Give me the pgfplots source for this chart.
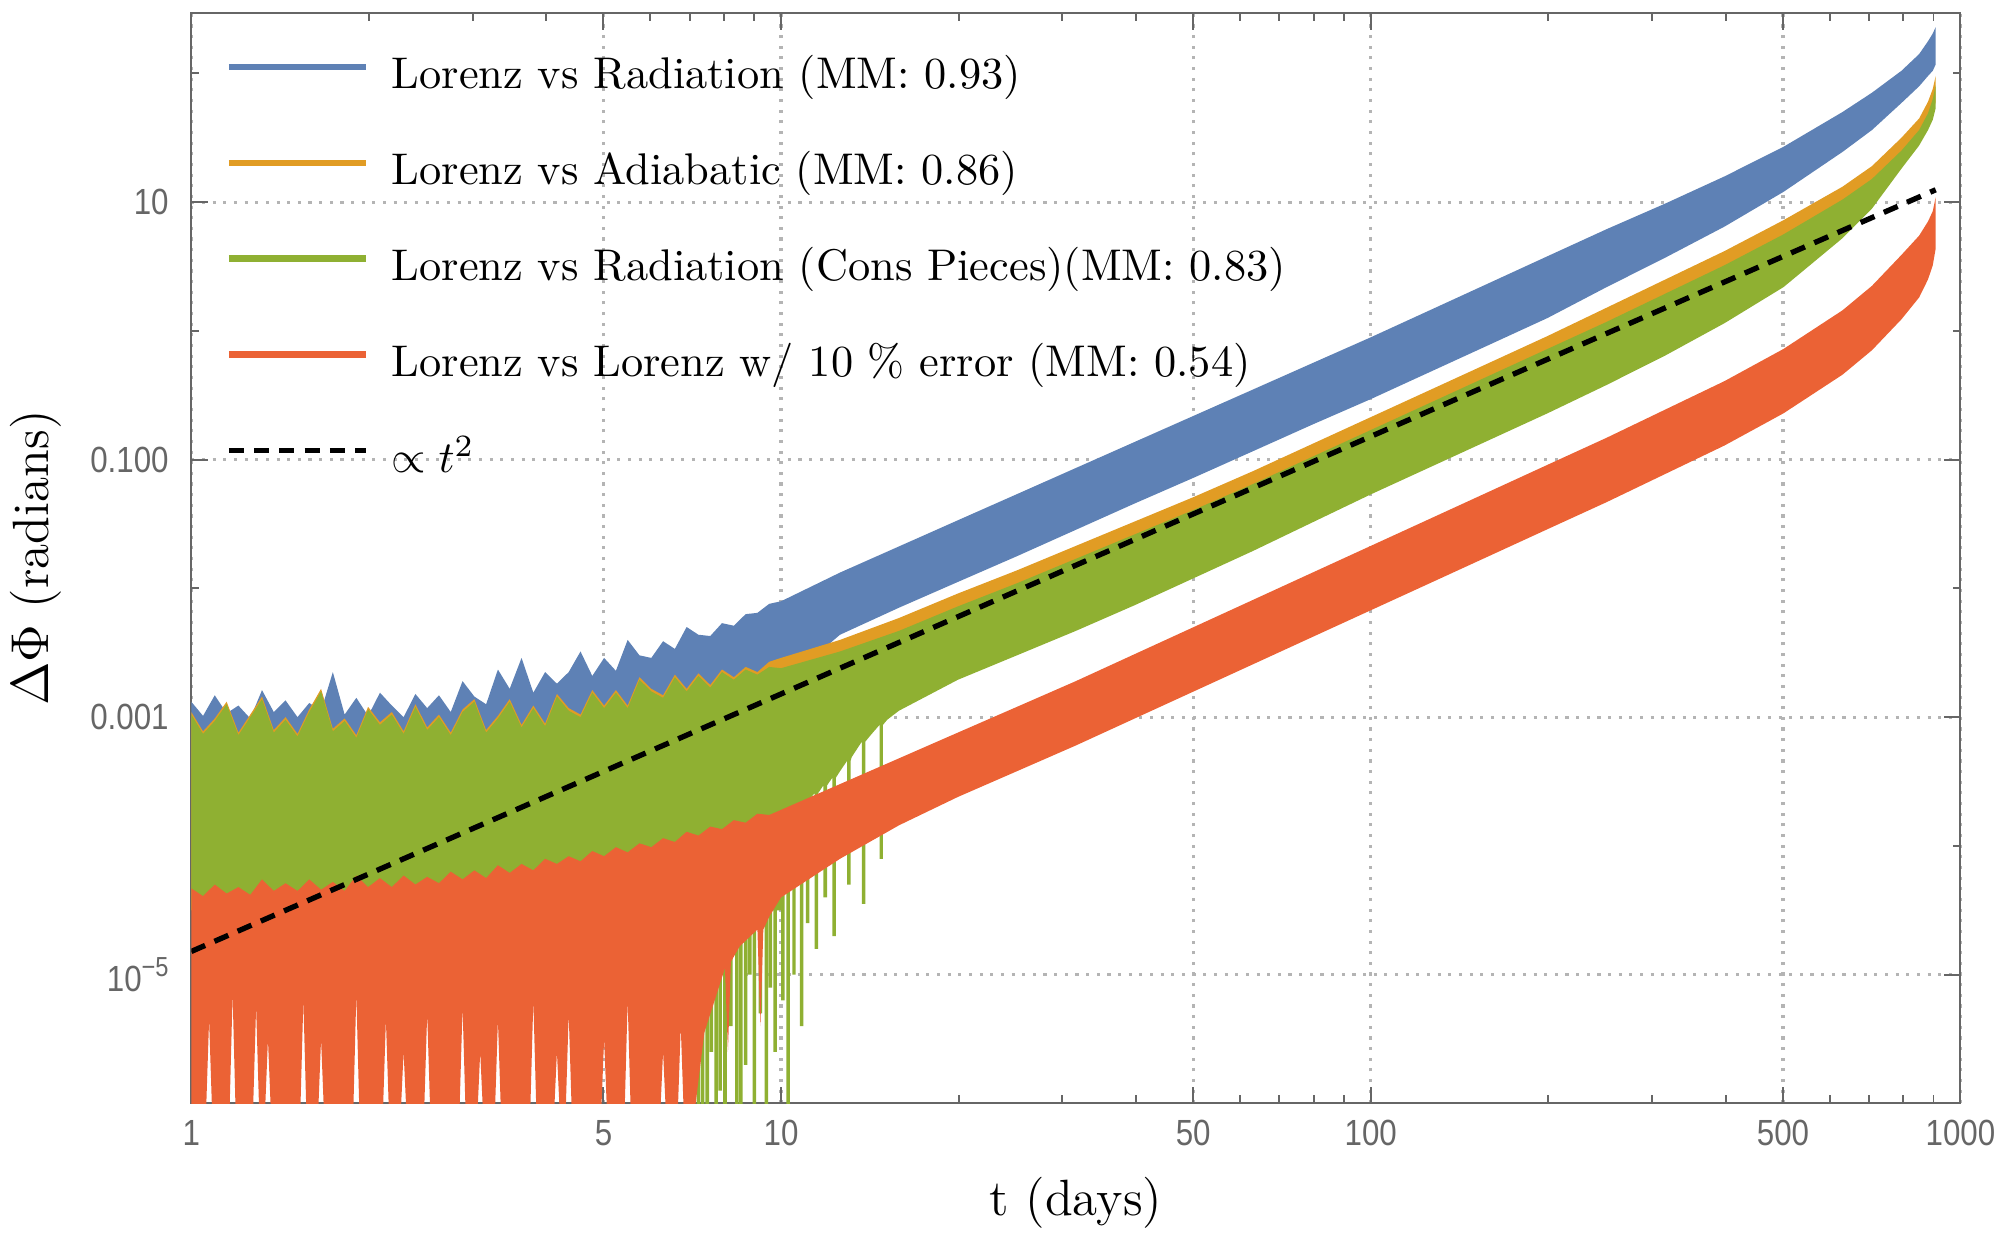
\documentclass[border=0pt]{standalone}
\usepackage{fontspec}
\usepackage{pgfplots}
\pgfplotsset{compat=1.18}
\newfontfamily\tickfont[FakeStretch=0.86]{Liberation Sans}
\definecolor{cBlue}{HTML}{5E81B5}
\definecolor{cOrange}{HTML}{E19C24}
\definecolor{cGreen}{HTML}{8FB032}
\definecolor{cRed}{HTML}{EB6235}
\definecolor{framegray}{HTML}{666666}
\definecolor{gridgray}{HTML}{B4B4B4}
\begin{document}
\begin{tikzpicture}
\begin{axis}[
  xmode=log, ymode=log,
  scale only axis, width=398.6pt, height=245.7pt,
  xmin=1, xmax=1000, ymin=1e-6, ymax=295,
  xtick={1,5,10,50,100,500,1000},
  xticklabels={1,5,10,50,100,500,1000},
  minor xtick={2,3,4,6,7,8,9,20,30,40,60,70,80,90,200,300,400,600,700,800,900},
  ytick={1e-5,1e-3,0.1,10},
  yticklabels={10\raisebox{0.42em}{\fontsize{6.2}{6.2}\selectfont −5},0.001,0.100,10},
  minor ytick={1e-6,1e-4,1e-2,1,100},
  tick align=inside, tick pos=both,
  major tick length=3.75pt, minor tick length=1.8pt,
  every tick/.style={draw=framegray, line width=0.45pt},
  axis line style={draw=framegray, line width=0.45pt},
  grid=major,
  major grid style={draw=gridgray, line width=0.7pt, dash pattern=on 0.7pt off 1.7pt},
  xticklabel style={font=\tickfont\fontsize{8.2}{9}\selectfont, text=framegray, anchor=north, inner sep=0pt, yshift=-3.6pt},
  yticklabel style={font=\tickfont\fontsize{8.2}{9}\selectfont, text=framegray, anchor=east, inner sep=0pt, xshift=-4.9pt},
  xlabel={t (days)}, ylabel={$\Delta\Phi$ (radians)},
  label style={font=\fontsize{11.5}{13}\selectfont},
  xlabel style={at={(axis description cs:0.5,0)}, anchor=center, yshift=-22.4pt},
  ylabel style={at={(axis description cs:0,0.5)}, anchor=center, yshift=35pt},
  no markers,
  legend style={at={(0,1)}, anchor=north west, xshift=7.75pt, yshift=-9.65pt,
    draw=none, fill=none, inner sep=0pt, outer sep=0pt, row sep=11.6pt,
    nodes={inner sep=0pt, text height=7.5pt, text depth=2.5pt},
    /tikz/every odd column/.append style={column sep=5.0pt}},
  legend cell align=left,
  legend image code/.code={\draw[#1] (0pt,2.5pt) -- (31pt,2.5pt);},
]
% Lorenz vs Radiation (blue band: upper envelope, then lower envelope backwards)
\addplot[forget plot, fill=cBlue, draw=none] coordinates {
(1,1.318e-3) (1.047,1.023e-3) (1.096,1.479e-3) (1.148,1.072e-3) (1.202,1.230e-3) (1.259,9.772e-4) (1.318,1.622e-3) (1.380,1.096e-3) (1.445,1.349e-3) (1.514,1.000e-3) (1.585,1.288e-3) (1.660,1.122e-3) (1.738,2.239e-3) (1.820,1.047e-3) (1.905,1.413e-3) (1.995,1.023e-3) (2.089,1.549e-3) (2.188,1.230e-3) (2.291,1.000e-3) (2.399,1.514e-3) (2.512,1.175e-3) (2.630,1.479e-3) (2.754,1.096e-3) (2.884,1.905e-3) (3.020,1.445e-3) (3.162,1.259e-3) (3.311,2.344e-3) (3.467,1.660e-3) (3.631,2.884e-3) (3.802,1.549e-3) (3.981,2.239e-3) (4.169,1.820e-3) (4.365,2.239e-3) (4.571,3.236e-3) (4.786,2.089e-3) (5.012,2.884e-3) (5.248,2.291e-3) (5.495,3.981e-3) (5.754,3.020e-3) (6.026,2.884e-3) (6.310,3.890e-3) (6.607,3.388e-3) (6.918,5.012e-3) (7.244,4.365e-3) (7.586,4.266e-3) (7.943,5.370e-3) (8.318,5.129e-3) (8.710,6.310e-3) (9.120,6.457e-3) (9.550,7.586e-3) (10,7.943e-3)
(12.59,1.327e-2) (15.85,2.118e-2) (19.95,3.381e-2) (25.12,5.395e-2) (31.62,8.610e-2) (39.81,0.1374) (50.12,0.2193) (63.10,0.3499) (79.43,0.5585) (100,0.8913) (125.9,1.445) (158.5,2.344) (199.5,3.802) (251.2,6.166) (316.2,9.772) (398.1,15.85) (501.2,26.92) (631.0,50.12) (707.9,70.79) (794.3,104.7) (851.1,141.3) (881.0,177.8) (897.5,204.2) (907.8,229.1)
(907.8,117.5) (897.5,104.7) (881.0,95.50) (851.1,79.43) (794.3,58.88) (707.9,36.31) (631.0,24.55) (501.2,12.02) (398.1,6.457) (316.2,3.715) (251.2,2.188) (199.5,1.259) (158.5,0.7762) (125.9,0.4786) (100,0.2951) (79.43,0.1862) (63.10,0.1161) (50.12,7.244e-2) (39.81,4.571e-2) (31.62,2.851e-2) (25.12,1.778e-2) (19.95,1.122e-2) (15.85,7.079e-3) (12.59,4.365e-3) (10,1.778e-3) (7.943,5.012e-4) (1,3.981e-4)
};
% Lorenz vs Adiabatic (orange band)
\addplot[forget plot, fill=cOrange, draw=none] coordinates {
(1,1.096e-3) (1.047,7.762e-4) (1.096,9.772e-4) (1.148,1.318e-3) (1.202,7.586e-4) (1.259,1.047e-3) (1.318,1.445e-3) (1.380,7.943e-4) (1.445,1.000e-3) (1.514,7.413e-4) (1.585,1.148e-3) (1.660,1.660e-3) (1.738,8.128e-4) (1.820,9.772e-4) (1.905,7.244e-4) (1.995,1.202e-3) (2.089,9.120e-4) (2.188,1.096e-3) (2.291,7.762e-4) (2.399,1.259e-3) (2.512,8.318e-4) (2.630,1.047e-3) (2.754,7.586e-4) (2.884,1.148e-3) (3.020,1.380e-3) (3.162,7.943e-4) (3.311,1.023e-3) (3.467,1.380e-3) (3.631,8.710e-4) (3.802,1.230e-3) (3.981,8.913e-4) (4.169,1.514e-3) (4.365,1.175e-3) (4.571,1.047e-3) (4.786,1.622e-3) (5.012,1.230e-3) (5.248,1.622e-3) (5.495,1.230e-3) (5.754,2.042e-3) (6.026,1.660e-3) (6.310,1.479e-3) (6.607,2.138e-3) (6.918,1.660e-3) (7.244,2.188e-3) (7.586,1.778e-3) (7.943,2.344e-3) (8.318,2.042e-3) (8.710,2.455e-3) (9.120,2.239e-3) (9.550,2.692e-3) (10,2.884e-3)
(12.59,3.981e-3) (15.85,5.888e-3) (19.95,9.120e-3) (25.12,1.380e-2) (31.62,2.138e-2) (39.81,3.311e-2) (50.12,5.129e-2) (63.10,8.128e-2) (79.43,0.1318) (100,0.2138) (125.9,0.3467) (158.5,0.5623) (199.5,0.9120) (251.2,1.514) (316.2,2.512) (398.1,4.169) (501.2,7.244) (631.0,13.18) (707.9,19.05) (794.3,31.62) (851.1,44.67) (881.0,60.26) (897.5,75.86) (907.8,95.50)
(907.8,60.26) (897.5,48.98) (881.0,40.74) (851.1,30.90) (794.3,20.42) (631.0,6.607) (398.1,1.445) (251.2,0.4786) (158.5,0.1778) (100,6.761e-2) (63.10,2.455e-2) (39.81,9.333e-3) (25.12,3.631e-3) (15.85,1.585e-3) (10,3.162e-4) (1,3.162e-5)
};
% Lorenz vs Radiation (Cons Pieces) (green band)
\addplot[forget plot, fill=cGreen, draw=none] coordinates {
(1,1.047e-3) (1.047,7.413e-4) (1.096,9.333e-4) (1.148,1.259e-3) (1.202,7.244e-4) (1.259,1.000e-3) (1.318,1.380e-3) (1.380,7.586e-4) (1.445,9.550e-4) (1.514,7.079e-4) (1.585,1.096e-3) (1.660,1.585e-3) (1.738,7.762e-4) (1.820,9.333e-4) (1.905,6.918e-4) (1.995,1.148e-3) (2.089,8.710e-4) (2.188,1.047e-3) (2.291,7.413e-4) (2.399,1.202e-3) (2.512,7.943e-4) (2.630,1.000e-3) (2.754,7.244e-4) (2.884,1.096e-3) (3.020,1.318e-3) (3.162,7.586e-4) (3.311,9.772e-4) (3.467,1.318e-3) (3.631,8.318e-4) (3.802,1.175e-3) (3.981,8.511e-4) (4.169,1.445e-3) (4.365,1.122e-3) (4.571,1.000e-3) (4.786,1.549e-3) (5.012,1.175e-3) (5.248,1.549e-3) (5.495,1.175e-3) (5.754,1.950e-3) (6.026,1.585e-3) (6.310,1.413e-3) (6.607,2.042e-3) (6.918,1.585e-3) (7.244,2.089e-3) (7.586,1.698e-3) (7.943,2.239e-3) (8.318,1.950e-3) (8.710,2.344e-3) (9.120,2.138e-3) (9.550,2.455e-3) (10,2.399e-3)
(12.59,3.236e-3) (15.85,4.677e-3) (19.95,7.244e-3) (25.12,1.096e-2) (31.62,1.698e-2) (39.81,2.630e-2) (50.12,4.074e-2) (63.10,6.457e-2) (79.43,0.1047) (100,0.1698) (125.9,0.2754) (158.5,0.4467) (199.5,0.7244) (251.2,1.175) (316.2,1.950) (398.1,3.236) (501.2,5.623) (631.0,10.47) (707.9,15.14) (794.3,25.12) (851.1,36.31) (881.0,48.98) (897.5,63.10) (907.8,81.28)
(907.8,53.70) (897.5,43.65) (881.0,36.31) (851.1,27.54) (794.3,18.20) (707.9,8.913) (631.0,5.248) (501.2,2.188) (398.1,1.148) (316.2,0.6457) (251.2,0.3802) (199.5,0.2291) (158.5,0.1413) (125.9,8.710e-2) (100,5.370e-2) (79.43,3.236e-2) (63.10,1.950e-2) (50.12,1.202e-2) (39.81,7.413e-3) (31.62,4.677e-3) (25.12,3.020e-3) (19.95,1.950e-3) (15.85,1.122e-3) (15.14,9.550e-4)
(14.89,8.710e-4) (14.89,7.943e-5) (14.69,7.943e-5) (14.69,8.710e-4) (14.13,7.079e-4)
(13.90,6.457e-4) (13.90,3.548e-5) (13.71,3.548e-5) (13.71,6.457e-4) (13.18,4.898e-4)
(13.12,4.571e-4) (13.12,5.012e-5) (12.94,5.012e-5) (12.94,4.571e-4) (12.59,3.802e-4)
(12.39,3.388e-4) (12.39,1.995e-5) (12.22,1.995e-5) (12.22,3.388e-4)
(11.97,2.951e-4) (11.97,3.981e-5) (11.80,3.981e-5) (11.80,2.951e-4)
(11.56,2.570e-4) (11.56,1.585e-5) (11.40,1.585e-5) (11.40,2.570e-4)
(11.17,2.291e-4) (11.17,2.512e-5) (11.02,2.512e-5) (11.02,2.291e-4)
(10.91,2.042e-4) (10.91,3.981e-6) (10.76,3.981e-6) (10.76,2.042e-4)
(10.59,1.778e-4) (10.59,1.000e-5) (10.45,1.000e-5) (10.45,1.778e-4)
(10.35,1.622e-4) (10.35,6.310e-7) (10.21,6.310e-7) (10.21,1.622e-4)
(10.14,1.445e-4) (10.14,6.310e-6) (10.00,6.310e-6) (10.00,3.162e-5)
(9.840,3.162e-5) (9.840,2.512e-6) (9.705,2.512e-6) (9.705,3.162e-5)
(9.661,3.162e-5) (9.661,7.943e-6) (9.528,7.943e-6) (9.528,3.162e-5)
(9.506,3.162e-5) (9.506,6.310e-7) (9.376,6.310e-7) (9.376,3.162e-5)
(9.290,3.162e-5) (9.290,5.012e-6) (9.162,5.012e-6) (9.162,3.162e-5)
(9.078,3.162e-5) (9.078,6.310e-7) (8.954,6.310e-7) (8.954,3.162e-5)
(8.913,3.162e-5) (8.913,1.000e-5) (8.790,1.000e-5) (8.790,3.162e-5)
(8.770,3.162e-5) (8.770,1.995e-6) (8.650,1.995e-6) (8.650,3.162e-5)
(8.610,3.162e-5) (8.610,6.310e-7) (8.492,6.310e-7) (8.492,3.162e-5)
(8.472,3.162e-5) (8.472,6.310e-7) (8.356,6.310e-7) (8.356,3.162e-5)
(8.279,3.162e-5) (8.279,3.981e-6) (8.166,3.981e-6) (8.166,3.162e-5)
(8.091,3.162e-5) (8.091,6.310e-7) (7.980,6.310e-7) (7.980,3.162e-5)
(7.943,3.162e-5) (7.943,1.259e-6) (7.834,1.259e-6) (7.834,3.162e-5)
(7.816,3.162e-5) (7.816,6.310e-7) (7.709,6.310e-7) (7.709,3.162e-5)
(7.674,3.162e-5) (7.674,2.512e-6) (7.568,2.512e-6) (7.568,3.162e-5)
(7.551,3.162e-5) (7.551,6.310e-7) (7.447,6.310e-7) (7.447,3.162e-5)
(7.413,3.162e-5) (7.413,6.310e-7) (7.311,6.310e-7) (7.311,3.162e-5)
(7.295,3.162e-5) (7.295,6.310e-7) (7.194,6.310e-7) (7.194,3.162e-5)
(1,3.162e-5)
};
% Lorenz vs Lorenz w/ 10 % error (red band)
\addplot[forget plot, fill=cRed, draw=none] coordinates {
(1,4.677e-5) (1.047,4.074e-5) (1.096,5.012e-5) (1.148,4.266e-5) (1.202,4.786e-5) (1.259,4.169e-5) (1.318,5.495e-5) (1.380,4.467e-5) (1.445,5.129e-5) (1.514,4.467e-5) (1.585,5.495e-5) (1.660,4.571e-5) (1.738,5.248e-5) (1.820,4.467e-5) (1.905,5.888e-5) (1.995,4.786e-5) (2.089,5.623e-5) (2.188,4.786e-5) (2.291,5.888e-5) (2.399,5.012e-5) (2.512,5.754e-5) (2.630,5.129e-5) (2.754,6.310e-5) (2.884,5.495e-5) (3.020,6.457e-5) (3.162,5.623e-5) (3.311,7.079e-5) (3.467,6.166e-5) (3.631,7.244e-5) (3.802,6.457e-5) (3.981,7.943e-5) (4.169,7.244e-5) (4.365,8.318e-5) (4.571,7.586e-5) (4.786,9.120e-5) (5.012,8.318e-5) (5.248,9.772e-5) (5.495,8.913e-5) (5.754,1.047e-4) (6.026,9.772e-5) (6.310,1.148e-4) (6.607,1.072e-4) (6.918,1.288e-4) (7.244,1.202e-4) (7.586,1.413e-4) (7.943,1.349e-4) (8.318,1.585e-4) (8.710,1.514e-4) (9.120,1.778e-4) (9.550,1.738e-4) (10,1.905e-4)
(12.59,3.020e-4) (15.85,4.786e-4) (19.95,7.586e-4) (25.12,1.202e-3) (31.62,1.905e-3) (39.81,3.090e-3) (50.12,5.012e-3) (63.10,8.128e-3) (79.43,1.318e-2) (100,2.138e-2) (125.9,3.467e-2) (158.5,5.623e-2) (199.5,9.120e-2) (251.2,0.1479) (316.2,0.2455) (398.1,0.4074) (501.2,0.7244) (631.0,1.445) (707.9,2.239) (794.3,3.890) (851.1,5.495) (881.0,7.079) (897.5,8.511) (907.8,10.96)
(907.8,4.365) (897.5,3.236) (881.0,2.512) (851.1,1.820) (794.3,1.230) (707.9,0.7079) (631.0,0.4571) (501.2,0.2291) (398.1,0.1288) (316.2,7.762e-2) (251.2,4.677e-2) (199.5,2.884e-2) (158.5,1.778e-2) (125.9,1.096e-2) (100,6.761e-3) (79.43,4.169e-3) (63.10,2.570e-3) (50.12,1.585e-3) (39.81,9.772e-4) (31.62,6.026e-4) (25.12,3.802e-4) (19.95,2.399e-4) (15.85,1.445e-4) (12.59,7.943e-5) (10,3.981e-5) (9.550,2.818e-5) (9.333,2.239e-5) (9.226,3.981e-6) (9.120,2.239e-5) (8.511,1.660e-5) (8.222,1.259e-5) (8.128,2.512e-6) (8.035,1.122e-5) (7.413,3.548e-6) (7.079,6.310e-7)
(6.855,6.310e-7) (6.761,3.981e-6) (6.668,6.310e-7) (6.398,6.310e-7) (6.310,2.512e-6) (6.223,6.310e-7) (5.571,6.310e-7) (5.495,6.310e-6) (5.420,6.310e-7) (5.082,6.310e-7) (5.012,3.162e-6) (4.943,6.310e-7) (4.426,6.310e-7) (4.365,5.012e-6) (4.305,6.310e-7) (4.227,6.310e-7) (4.169,2.512e-6) (4.111,6.310e-7) (3.855,6.310e-7) (3.802,6.310e-6) (3.750,6.310e-7) (3.357,6.310e-7) (3.311,4.467e-6) (3.266,6.310e-7) (3.133,6.310e-7) (3.090,2.512e-6) (3.048,6.310e-7) (2.924,6.310e-7) (2.884,5.623e-6) (2.844,6.310e-7) (2.547,6.310e-7) (2.512,5.012e-6) (2.477,6.310e-7) (2.323,6.310e-7) (2.291,2.512e-6) (2.259,6.310e-7) (2.168,6.310e-7) (2.138,4.467e-6) (2.109,6.310e-7) (1.931,6.310e-7) (1.905,7.079e-6) (1.879,6.310e-7) (1.683,6.310e-7) (1.660,3.162e-6) (1.637,6.310e-7) (1.570,6.310e-7) (1.549,6.310e-6) (1.528,6.310e-7) (1.368,6.310e-7) (1.349,3.162e-6) (1.330,6.310e-7) (1.306,6.310e-7) (1.288,5.623e-6) (1.270,6.310e-7) (1.191,6.310e-7) (1.175,7.079e-6) (1.159,6.310e-7) (1.087,6.310e-7) (1.072,4.467e-6) (1.057,6.310e-7) (1,6.310e-7)
};
% proportional to t^2
\addplot[forget plot, black, line width=1.2pt, dash pattern=on 3.4pt off 2.3pt] coordinates {(1,1.514e-5) (907.8,12.47)};
\addlegendimage{cBlue, line width=1.4pt}
\addlegendentry{Lorenz vs Radiation (MM: 0.93)}
\addlegendimage{cOrange, line width=1.4pt}
\addlegendentry{Lorenz vs Adiabatic (MM: 0.86)}
\addlegendimage{cGreen, line width=1.4pt}
\addlegendentry{Lorenz vs Radiation (Cons Pieces)(MM: 0.83)}
\addlegendimage{cRed, line width=1.4pt}
\addlegendentry{Lorenz vs Lorenz w/ 10 \% error (MM: 0.54)}
\addlegendimage{black, line width=1.2pt, dash pattern=on 3.4pt off 2.3pt}
\addlegendentry{$\propto t^2$}
\end{axis}
\pgfresetboundingbox
\useasboundingbox (current axis.south west) ++(-43.1pt,-32.5pt) rectangle ++(450.6pt,281.1pt);
\end{tikzpicture}
\end{document}
